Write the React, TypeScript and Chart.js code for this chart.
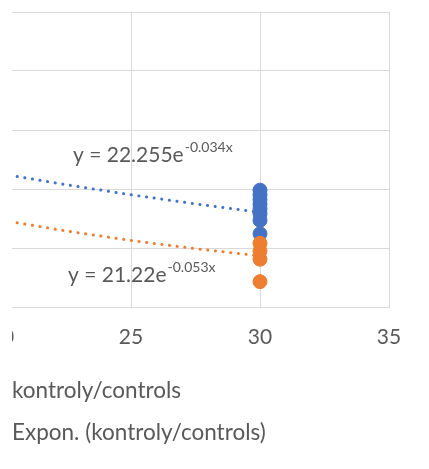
import React, { useEffect, useRef } from "react";
import { Chart, registerables } from "chart.js";

Chart.register(...registerables);

// ---- data ----
const xMin = 20;
const xMax = 35;
const xStep = 5;
const yMin = 0;
const yMax = 25;
const yStep = 5;

const blueX = [30, 30, 30, 30, 30, 30, 30, 30];
const blueY = [9.9, 9.5, 9.1, 8.7, 8.3, 7.9, 7.35, 6.2];

const orangeX = [30, 30, 30, 30];
const orangeY = [5.4, 4.75, 4.05, 2.15];

const trendX = [20, 22.5, 25, 27.5, 30];
const blueTrendY = [11.27, 10.36, 9.51, 8.74, 8.02];
const orangeTrendY = [7.35, 6.44, 5.64, 4.94, 4.33];

const seriesLabels = ["", "kontroly/controls"];
const trendLabels = ["", "Expon. (kontroly/controls)"];
const blueEquation = ["y = 22.255e", "-0.034x"];
const orangeEquation = ["y = 21.22e", "-0.053x"];

// ---- style ----
const BLUE = "#4472C4";
const ORANGE = "#ED7D31";
const GRID = "#d9d9d9";
const TEXT = "#595959";
const FONT = "Lato, 'Open Sans', sans-serif";
const FS = 21;
const LEG_FS = 22.5;
const SUP = 14;
const TICK_PAD = 18;

const SHIFT = 30; // canvas starts 30px left of the page edge
const CW = 429 + SHIFT;
const CH = 469;

const pts = (xs: number[], ys: number[]) => xs.map((x, i) => ({ x, y: ys[i] }));

const labelsPlugin = {
  id: "labelsPlugin",
  afterDraw(chart: any) {
    const ctx = chart.ctx as CanvasRenderingContext2D;
    ctx.save();
    ctx.fillStyle = TEXT;
    ctx.textBaseline = "alphabetic";
    ctx.textAlign = "left";
    const drawEq = (eq: string[], x: number, y: number) => {
      ctx.font = `${FS}px ${FONT}`;
      ctx.fillText(eq[0], x, y);
      const w = ctx.measureText(eq[0]).width;
      ctx.font = `${SUP}px ${FONT}`;
      ctx.fillText(eq[1], x + w + 1, y - 10);
    };
    drawEq(blueEquation, 73 + SHIFT, 162);
    drawEq(orangeEquation, 68 + SHIFT, 282);
    ctx.font = `${LEG_FS}px ${FONT}`;
    const ds = chart.data.datasets;
    ctx.fillText(ds[1].label, 12 + SHIFT, 398);
    ctx.fillText(ds[3].label, 12 + SHIFT, 440);
    ctx.restore();
  },
};

export default function App() {
  const ref = useRef<HTMLCanvasElement | null>(null);
  useEffect(() => {
    if (!ref.current) return;
    const axisH = 2 * TICK_PAD + FS * 1.2;
    const chart = new Chart(ref.current, {
      type: "scatter",
      data: {
        datasets: [
          {
            label: seriesLabels[0],
            data: pts(blueX, blueY),
            backgroundColor: BLUE,
            borderColor: BLUE,
            pointRadius: 7,
            borderWidth: 1,
            order: 2,
          },
          {
            label: seriesLabels[1],
            data: pts(orangeX, orangeY),
            backgroundColor: ORANGE,
            borderColor: ORANGE,
            pointRadius: 7,
            borderWidth: 1,
            order: 1,
          },
          {
            label: trendLabels[0],
            type: "line",
            data: pts(trendX, blueTrendY),
            borderColor: BLUE,
            borderWidth: 3,
            borderDash: [0.1, 7.6],
            borderCapStyle: "round",
            pointRadius: 0,
            showLine: true,
            fill: false,
            order: 4,
          } as any,
          {
            label: trendLabels[1],
            type: "line",
            data: pts(trendX, orangeTrendY),
            borderColor: ORANGE,
            borderWidth: 3,
            borderDash: [0.1, 7.6],
            borderCapStyle: "round",
            pointRadius: 0,
            showLine: true,
            fill: false,
            order: 3,
          } as any,
        ],
      },
      options: {
        animation: false,
        responsive: false,
        devicePixelRatio: 1,
        layout: {
          padding: { left: 2 + SHIFT, right: 429 - 389, top: 12, bottom: CH - 307 - axisH },
        },
        plugins: {
          legend: { display: false },
          tooltip: { enabled: false },
        },
        scales: {
          x: {
            type: "linear",
            min: xMin,
            max: xMax,
            ticks: {
              stepSize: xStep,
              color: TEXT,
              font: { family: FONT, size: FS },
              padding: TICK_PAD,
              maxRotation: 0,
            },
            grid: { color: GRID, lineWidth: 1, drawTicks: false },
            border: { display: true, color: GRID },
          },
          y: {
            type: "linear",
            min: yMin,
            max: yMax,
            ticks: { stepSize: yStep, display: false },
            grid: { color: GRID, lineWidth: 1, drawTicks: false },
            border: { display: false },
          },
        },
      },
      plugins: [labelsPlugin],
    });
    return () => chart.destroy();
  }, []);

  return (
    <div
      style={{
        position: "fixed",
        left: 0,
        top: 0,
        width: 429,
        height: 469,
        background: "#fff",
        overflow: "hidden",
      }}
    >
      <div
        style={{
          position: "absolute",
          left: 12,
          top: 0,
          width: 417,
          height: 469,
          overflow: "hidden",
        }}
      >
        <canvas
          ref={ref}
          width={CW}
          height={CH}
          style={{ position: "absolute", left: -12 - SHIFT, top: 0, width: CW, height: CH }}
        />
      </div>
    </div>
  );
}
